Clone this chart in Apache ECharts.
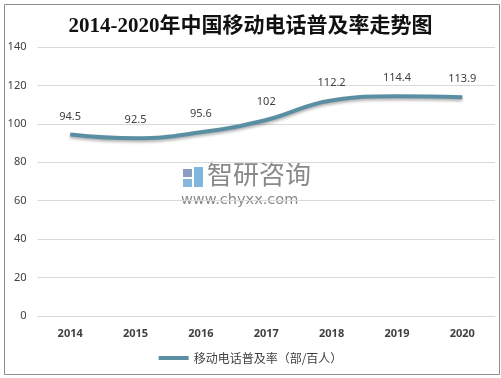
<!DOCTYPE html>
<html><head><meta charset="utf-8">
<script src="https://cdn.jsdelivr.net/npm/echarts@6/dist/echarts.min.js"></script>
<style>html,body{margin:0;padding:0;background:#fff}#c{width:501px;height:378px}</style>
</head><body><div id="c"></div>
<script>
const categories = ['2014','2015','2016','2017','2018','2019','2020'];
const values = [94.5, 92.5, 95.6, 102, 112.2, 114.4, 113.9];
const yTicks = [0, 20, 40, 60, 80, 100, 120, 140];
const seriesName = '移动电话普及率（部/百人）';
const titleText = '2014-2020年中国移动电话普及率走势图';

const chart = echarts.init(document.getElementById('c'), null, {renderer:'canvas'});
chart.setOption({
  backgroundColor:'#fff',
  animation:false,
  title:{text:titleText,left:'center',top:11,textStyle:{fontFamily:'Liberation Serif, Noto Sans CJK SC',fontSize:21,fontWeight:'bold',color:'#111'}},
  grid:{left:37.5,right:6,top:47,bottom:62},
  legend:{bottom:9,left:'center',itemWidth:30,itemHeight:4,itemGap:2,
    textStyle:{fontFamily:'Noto Sans CJK SC',fontSize:12,color:'#404040'},
    data:[{name:seriesName,icon:'rect',itemStyle:{color:'#5a8fa3',opacity:1}}]},
  xAxis:{type:'category',data:categories,boundaryGap:true,
    axisLine:{show:true,lineStyle:{color:'#d9d9d9'}},axisTick:{show:false},
    axisLabel:{fontFamily:'Noto Sans',fontWeight:'bold',fontSize:11,color:'#404040',margin:12}},
  yAxis:{type:'value',min:yTicks[0],max:yTicks[yTicks.length-1],interval:20,
    axisLine:{show:false},axisTick:{show:false},
    splitLine:{lineStyle:{color:'#d9d9d9'}},
    axisLabel:{fontFamily:'Noto Sans',fontSize:11,color:'#404040',margin:11}},
  graphic:[
    {type:'rect',left:2,top:2,shape:{width:495,height:370},style:{fill:'none',stroke:'#8c8c8c',lineWidth:1},z:-1},
    {type:'rect',left:183,top:169,shape:{width:9,height:8},style:{fill:'#8a9cc2'},z:0},
    {type:'rect',left:183,top:179,shape:{width:9,height:8},style:{fill:'#8ab8dc'},z:0},
    {type:'rect',left:194,top:167,shape:{width:9,height:20},style:{fill:'#7fb6df'},z:0},
    {type:'text',left:207,top:161,style:{text:'智研咨询',fontFamily:'Noto Sans CJK SC',fontSize:26,fill:'#8a8a8a'},z:0},
    {type:'text',left:181,top:193,style:{text:'www.chyxx.com',fontFamily:'DejaVu Sans',fontSize:14.5,fill:'#8a8a8a'},z:0}
  ],
  series:[{
    name:seriesName,type:'line',data:values,smooth:0.45,symbol:'circle',symbolSize:1,showSymbol:true,
    lineStyle:{color:'#5a8fa3',width:4,shadowColor:'rgba(0,0,0,0.3)',shadowBlur:3,shadowOffsetY:2},
    itemStyle:{color:'rgba(90,143,163,0)'},
    label:{show:true,position:'top',distance:12,fontFamily:'Noto Sans',fontSize:11,color:'#404040'}
  }]
});
</script></body></html>
